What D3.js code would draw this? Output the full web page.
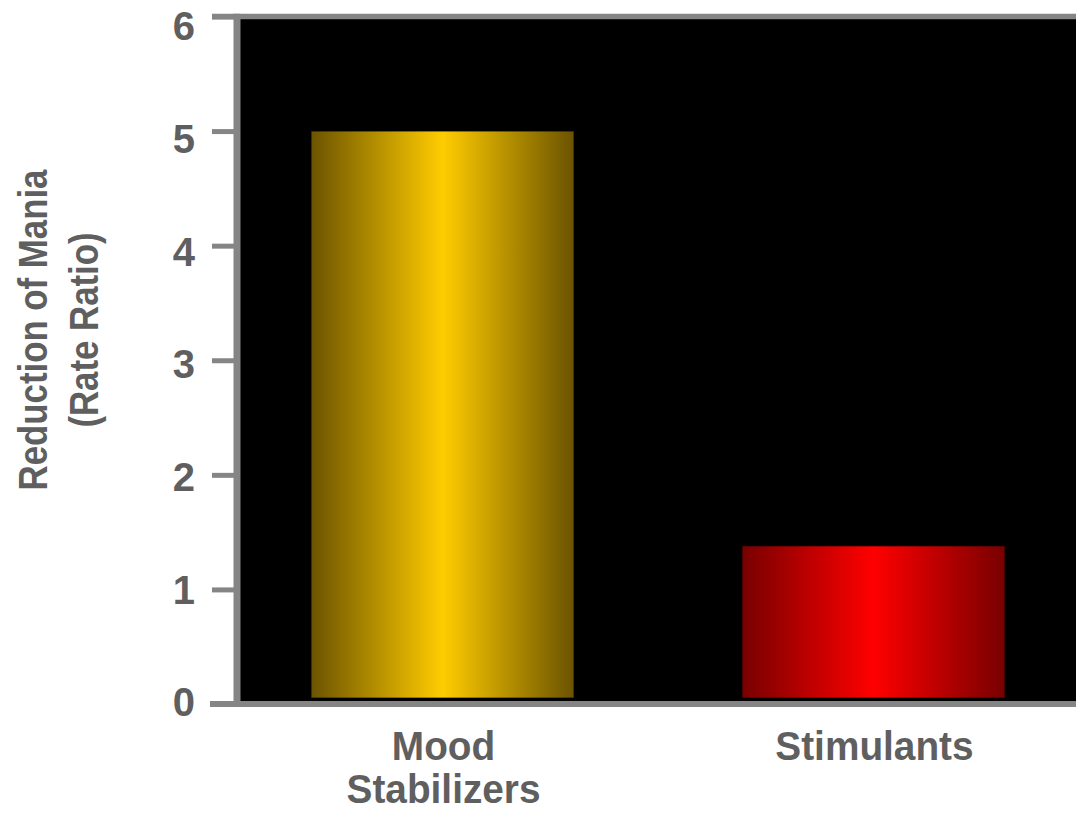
<!DOCTYPE html>
<meta charset="utf-8">
<html>
<style>
body { margin: 0; background: #fff; }
text { font-family: "Liberation Sans", Arial, sans-serif; font-weight: bold; fill: #5f5f5f; }
</style>
<body>
<script src="https://cdn.jsdelivr.net/npm/d3@7"></script>
<script>
// data
var categories = [["Mood", "Stabilizers"], ["Stimulants"]];
var values = [5.0, 1.38];
var yTicks = [0, 1, 2, 3, 4, 5, 6];
var barColors = [["#6b5300", "#ffcc00"], ["#780000", "#ff0000"]];

var width = 1076, height = 814;
var plotLeft = 240, plotTop = 16.5, plotBottom = 704, plotRight = 1076;

var svg = d3.select("body").append("svg")
    .attr("width", width)
    .attr("height", height);

var defs = svg.append("defs");

var x = d3.scaleBand()
    .domain(d3.range(values.length))
    .range([plotLeft, plotRight])
    .paddingInner(0.39)
    .paddingOuter(0.165);

var y = d3.scaleLinear()
    .domain([0, 6])
    .range([plotBottom, plotTop]);

// the tick numbers sit on a slightly tighter spacing than the tick marks
var yLab = d3.scaleLinear()
    .domain([0, 6])
    .range([702, 26]);

// plot background
svg.append("rect")
    .attr("x", plotLeft)
    .attr("y", plotTop)
    .attr("width", width - plotLeft)
    .attr("height", plotBottom - plotTop)
    .attr("fill", "#000");

// gradients for bars
barColors.forEach(function(c, i) {
  var g = defs.append("linearGradient")
      .attr("id", "grad" + i)
      .attr("x1", "0%").attr("x2", "100%")
      .attr("y1", "0%").attr("y2", "0%");
  g.append("stop").attr("offset", "0%").attr("stop-color", c[0]);
  g.append("stop").attr("offset", "50%").attr("stop-color", c[1]);
  g.append("stop").attr("offset", "100%").attr("stop-color", c[0]);
});

// bars (they stop a few px above the baseline)
var gap = 6;
svg.selectAll(".bar")
    .data(values)
    .enter().append("rect")
    .attr("class", "bar")
    .attr("x", function(d, i) { return x(i); })
    .attr("y", function(d) { return y(d); })
    .attr("width", x.bandwidth())
    .attr("height", function(d) { return y(0) - gap - y(d); })
    .attr("fill", function(d, i) { return "url(#grad" + i + ")"; })
    .attr("stroke", "rgba(0,0,0,0.45)")
    .attr("stroke-width", 1.5);

// axis frame
var axisColor = "#858585";
svg.append("line")
    .attr("x1", 212).attr("x2", width)
    .attr("y1", plotTop).attr("y2", plotTop)
    .attr("stroke", axisColor).attr("stroke-width", 5.5);
svg.append("line")
    .attr("x1", 210).attr("x2", width)
    .attr("y1", plotBottom).attr("y2", plotBottom)
    .attr("stroke", axisColor).attr("stroke-width", 6);
svg.append("line")
    .attr("x1", 237).attr("x2", 237)
    .attr("y1", plotTop - 2.75).attr("y2", plotBottom + 3)
    .attr("stroke", axisColor).attr("stroke-width", 7);

// y ticks
var yAxis = d3.axisLeft(y)
    .tickValues(yTicks)
    .tickSize(24)
    .tickFormat("");

var ya = svg.append("g")
    .attr("transform", "translate(236,0)")
    .call(yAxis);
ya.select(".domain").remove();
ya.selectAll(".tick line")
    .attr("stroke", axisColor)
    .attr("stroke-width", 5);

svg.selectAll(".ylab")
    .data(yTicks)
    .enter().append("text")
    .attr("class", "ylab")
    .attr("text-anchor", "end")
    .attr("font-size", 40)
    .attr("x", 195)
    .attr("y", function(d) { return yLab(d); })
    .attr("dy", "0.36em")
    .text(function(d) { return d; });

// category labels
var cat = svg.selectAll(".cat")
    .data(categories)
    .enter().append("text")
    .attr("class", "cat")
    .attr("text-anchor", "middle")
    .attr("font-size", 40)
    .attr("transform", function(d, i) {
      return "translate(" + (x(i) + x.bandwidth() / 2 + 1) + ",760) scale(0.97,1)";
    });
cat.selectAll("tspan")
    .data(function(d) { return d; })
    .enter().append("tspan")
    .attr("x", 0)
    .attr("y", function(d, i) { return i * 43; })
    .text(function(d) { return d; });

// y label
var yl = svg.append("text")
    .attr("text-anchor", "middle")
    .attr("font-size", 40)
    .attr("transform", "translate(47,330) rotate(-90) scale(0.87,1)");
yl.append("tspan").attr("x", 0).attr("y", 0).text("Reduction of Mania");
yl.append("tspan").attr("x", 0).attr("y", 51).text("(Rate Ratio)");
</script>
</body>
</html>
